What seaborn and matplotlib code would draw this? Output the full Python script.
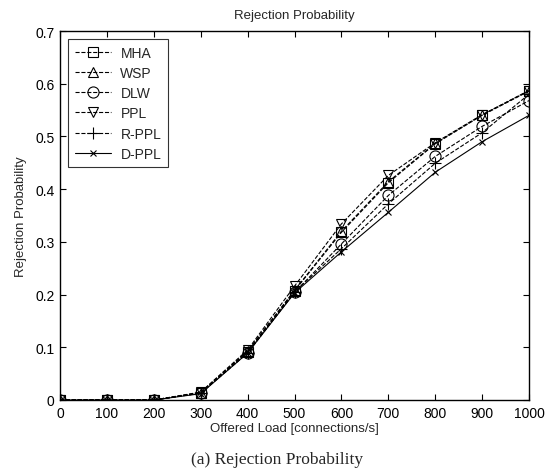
import matplotlib
matplotlib.use("Agg")
import matplotlib.pyplot as plt
import seaborn as sns
import pandas as pd

load = [0, 100, 200, 300, 400, 500, 600, 700, 800, 900, 1000]
mha = [0, 0, 0, 0.014, 0.092, 0.207, 0.318, 0.412, 0.486, 0.540, 0.586]
wsp = [0, 0, 0, 0.014, 0.093, 0.208, 0.320, 0.414, 0.487, 0.541, 0.587]
dlw = [0, 0, 0, 0.013, 0.089, 0.204, 0.296, 0.388, 0.462, 0.519, 0.568]
ppl = [0, 0, 0, 0.015, 0.095, 0.216, 0.334, 0.426, 0.488, 0.541, 0.587]
rppl = [0, 0, 0, 0.013, 0.090, 0.205, 0.287, 0.372, 0.449, 0.507, 0.580]
dppl = [0, 0, 0, 0.012, 0.089, 0.203, 0.281, 0.356, 0.432, 0.490, 0.540]

names = ["MHA", "WSP", "DLW", "PPL", "R-PPL", "D-PPL"]
series = [mha, wsp, dlw, ppl, rppl, dppl]
markers = ["s", "^", "o", "v", "+", "x"]
msizes = [7, 7, 8, 7, 9, 4]
styles = ["--", "--", "--", "--", "--", "-"]

sns.set_style("ticks")
plt.rcParams["font.family"] = ["Liberation Sans", "DejaVu Sans"]

fig = plt.figure(figsize=(5.52, 4.77), dpi=100)
ax = fig.add_axes([60 / 552, 1 - 401 / 477, (529 - 60) / 552, (401 - 32) / 477])

for name, vals, m, ms, ls in zip(names, series, markers, msizes, styles):
    df = pd.DataFrame({"load": load, "p": vals})
    kw = dict(dashes=(7, 5)) if ls == "--" else {}
    sns.lineplot(data=df, x="load", y="p", ax=ax, color="black", marker=m,
                 markersize=ms, markerfacecolor="none", markeredgecolor="black",
                 markeredgewidth=0.8, linestyle=ls, linewidth=0.8, label=name, **kw)

ax.set_xlim(0, 1000)
ax.set_ylim(0, 0.7)
ax.set_xticks(load)
ax.set_xticklabels([str(v) for v in load])
yt = [0, 0.1, 0.2, 0.3, 0.4, 0.5, 0.6, 0.7]
ax.set_yticks(yt)
ax.set_yticklabels(["0"] + [f"{v:.1f}" for v in yt[1:]])
ax.tick_params(direction="in", top=True, right=True, length=4, width=0.8,
               labelsize=10, colors="black", pad=4)
for s in ax.spines.values():
    s.set_color("black")
    s.set_linewidth(1.0)
ax.set_xlabel("Offered Load [connections/s]", fontsize=9.5, labelpad=2)
ax.set_ylabel("Rejection Probability", fontsize=9.5, labelpad=6)
ax.set_title("Rejection Probability", fontsize=9.5, pad=9)

leg = ax.legend(loc="upper left", fontsize=10, frameon=True, fancybox=False,
                edgecolor="black", handlelength=2.6, borderaxespad=0.6,
                labelspacing=0.45, handletextpad=0.7, borderpad=0.45)
leg.get_frame().set_linewidth(0.8)

fig.text(277 / 552, 1 - 460 / 477, "(a) Rejection Probability", ha="center", va="center",
         fontsize=12.5, family=["Liberation Serif", "DejaVu Serif"])

fig.savefig("out.png", dpi=100)
